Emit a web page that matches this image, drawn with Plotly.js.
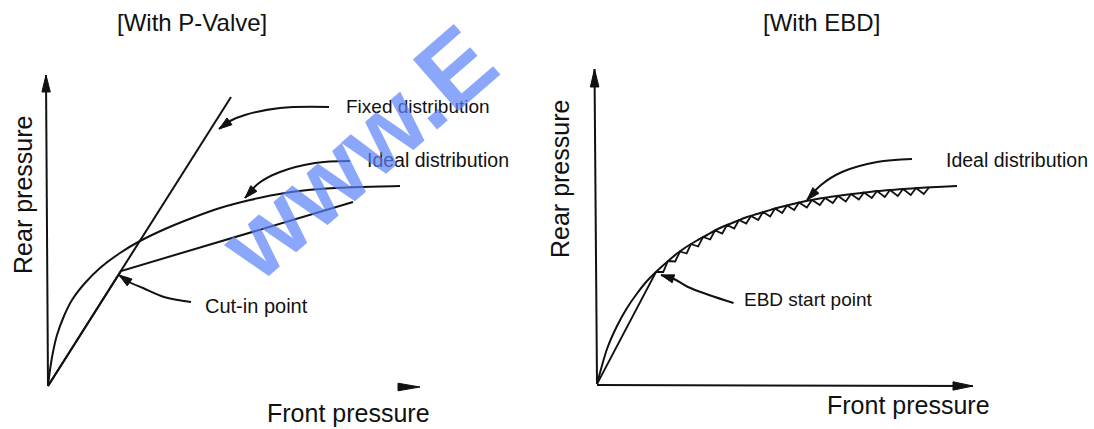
<!DOCTYPE html>
<html>
<head>
<meta charset="utf-8">
<script src="https://cdn.plot.ly/plotly-3.0.1.min.js"></script>
<style>html,body{margin:0;padding:0;background:#fff;}#chart{width:1094px;height:429px;}</style>
</head>
<body>
<div id="chart"></div>
<script>
// ---------- data (arbitrary pressure units) ----------
// Left panel: with P-valve
const pvIdealX = [0, 0.2, 0.5, 0.9, 1.6, 2.4, 3.7, 5.2, 7.2, 9.2, 11.7, 14.4, 17.2, 20.2, 23.7, 27.2, 31.2, 35.2];
const pvIdealY = [0, 1.6, 3.4, 5.1, 7.0, 8.6, 10.3, 11.8, 13.3, 14.5, 15.7, 16.8, 17.8, 18.6, 19.3, 19.7, 19.9, 20.0];
const pvFixedX = [0, 18.3];
const pvFixedY = [0, 28.9];
const pvValveX = [0, 7.3, 30.5];
const pvValveY = [0, 11.5, 18.4];

// Right panel: with EBD
const ebdIdealX = [0, 1, 2, 3, 4, 5, 6, 7, 8, 9, 10, 11, 12, 13, 14, 15, 16, 17, 18, 19, 20, 22, 24, 26, 28, 30, 32, 34, 36];
const ebdIdealY = [0, 3.5, 5.8, 7.6, 9.05, 10.3, 11.3, 12.2, 13.05, 13.75, 14.35, 14.9, 15.45, 15.9, 16.3, 16.7, 17.0, 17.3, 17.6, 17.85, 18.1, 18.5, 18.8, 19.05, 19.3, 19.45, 19.6, 19.7, 19.8];
const ebdActualX = [0, 5.9, 6.62, 7.1, 7.82, 8.3, 8.96, 9.4, 10.12, 10.6, 11.32, 11.8, 12.52, 13.0, 13.72, 14.2, 14.92, 15.4, 16.12, 16.6, 17.32, 17.8, 18.52, 19.0, 19.72, 20.2, 20.98, 21.5, 22.28, 22.8, 23.58, 24.1, 24.88, 25.4, 26.18, 26.7, 27.48, 28.0, 28.78, 29.3, 30.08, 30.6, 31.38, 31.9, 32.68, 33.2];
const ebdActualY = [0, 11.2, 11.2, 12.3, 12.25, 13.25, 13.05, 14.0, 13.75, 14.7, 14.45, 15.35, 15.05, 15.9, 15.55, 16.4, 16.05, 16.8, 16.4, 17.2, 16.75, 17.55, 17.1, 17.85, 17.4, 18.15, 17.65, 18.4, 17.9, 18.6, 18.1, 18.8, 18.25, 19.0, 18.45, 19.15, 18.6, 19.3, 18.7, 19.4, 18.8, 19.5, 18.9, 19.6, 19.0, 19.65];

// Pointer arrows (tail ... tip)
const fixedArrowX = [28.1, 23.2, 19.7, 18.2, 17.1];
const fixedArrowY = [27.9, 27.8, 27.1, 26.5, 25.7];
const pvIdealArrowX = [30.2, 26.7, 23.2, 21.1, 19.7];
const pvIdealArrowY = [22.5, 22.3, 21.4, 20.3, 18.8];
const cutInArrowX = [14.3, 11.6, 9.5, 8.1, 7.1];
const cutInArrowY = [8.4, 8.9, 9.8, 10.4, 11.1];
const ebdIdealArrowX = [31.5, 28.0, 24.5, 22.4, 21.0];
const ebdIdealArrowY = [22.5, 22.2, 21.2, 19.9, 18.4];
const ebdStartArrowX = [13.65, 11.2, 9.1, 7.7, 6.4];
const ebdStartArrowY = [8.1, 8.9, 9.7, 10.5, 10.9];

// Axis arrows (from origin to tip)
const pvYAxisX = [0, -0.2];
const pvYAxisY = [0, 31.1];
const pvXArrowX = [35.0, 37.2];
const pvXArrowY = [-0.1, -0.1];
const ebdYAxisX = [0, -0.25];
const ebdYAxisY = [0, 31.5];
const ebdXAxisX = [0, 37.6];
const ebdXAxisY = [-0.1, -0.2];

// Text
const titles = ['[With P-Valve]', '[With EBD]'];
const xLabel = 'Front pressure';
const yLabel = 'Rear pressure';
const watermark = 'www.E';

// ---------- drawing ----------
const INK = '#111111';
const FONT = 'Liberation Sans, Arial, sans-serif';

function line(x, y, xa, ya, extra) {
  return Object.assign({
    type: 'scatter', mode: 'lines', x: x, y: y, xaxis: xa, yaxis: ya,
    line: {color: INK, width: 2}, hoverinfo: 'skip', cliponaxis: false
  }, extra || {});
}

function head(xs, ys, len, hw, xr, yr) {
  const n = xs.length;
  const tx = xs[n - 1], ty = ys[n - 1];
  let dx = tx - xs[n - 2], dy = ty - ys[n - 2];
  const d = Math.hypot(dx, dy); dx /= d; dy /= d;
  const bx = tx - dx * len, by = ty - dy * len;
  const px = -dy * hw, py = dx * hw;
  return {
    type: 'path', xref: xr, yref: yr,
    path: `M${tx},${ty} L${bx + px},${by + py} L${bx - px},${by - py} Z`,
    fillcolor: INK, line: {color: INK, width: 1}
  };
}

const traces = [
  // left panel
  line(pvYAxisX, pvYAxisY, 'x', 'y'),
  line(pvFixedX, pvFixedY, 'x', 'y'),
  line(pvIdealX, pvIdealY, 'x', 'y', {line: {color: INK, width: 2, shape: 'spline', smoothing: 0.8}}),
  line(pvValveX, pvValveY, 'x', 'y'),
  line(fixedArrowX, fixedArrowY, 'x', 'y', {line: {color: INK, width: 2, shape: 'spline'}}),
  line(pvIdealArrowX, pvIdealArrowY, 'x', 'y', {line: {color: INK, width: 2, shape: 'spline'}}),
  line(cutInArrowX, cutInArrowY, 'x', 'y', {line: {color: INK, width: 2, shape: 'spline'}}),
  // right panel
  line(ebdYAxisX, ebdYAxisY, 'x2', 'y2'),
  line(ebdXAxisX, ebdXAxisY, 'x2', 'y2'),
  line(ebdIdealX, ebdIdealY, 'x2', 'y2', {line: {color: INK, width: 2, shape: 'spline', smoothing: 0.8}}),
  line(ebdActualX, ebdActualY, 'x2', 'y2', {line: {color: INK, width: 1.8}}),
  line(ebdIdealArrowX, ebdIdealArrowY, 'x2', 'y2', {line: {color: INK, width: 2, shape: 'spline'}}),
  line(ebdStartArrowX, ebdStartArrowY, 'x2', 'y2', {line: {color: INK, width: 2, shape: 'spline'}})
];

const shapes = [
  head(pvYAxisX, pvYAxisY, 1.7, 0.42, 'x', 'y'),
  head(pvXArrowX, pvXArrowY, 2.2, 0.38, 'x', 'y'),
  head(fixedArrowX, fixedArrowY, 1.3, 0.42, 'x', 'y'),
  head(pvIdealArrowX, pvIdealArrowY, 1.3, 0.42, 'x', 'y'),
  head(cutInArrowX, cutInArrowY, 1.3, 0.42, 'x', 'y'),
  head(ebdYAxisX, ebdYAxisY, 1.8, 0.43, 'x2', 'y2'),
  head(ebdXAxisX, ebdXAxisY, 2.0, 0.42, 'x2', 'y2'),
  head(ebdIdealArrowX, ebdIdealArrowY, 1.3, 0.42, 'x2', 'y2'),
  head(ebdStartArrowX, ebdStartArrowY, 1.3, 0.42, 'x2', 'y2')
];

function txt(text, x, y, size, extra) {
  return Object.assign({
    text: text, x: x, y: y, xref: 'paper', yref: 'paper', showarrow: false,
    xanchor: 'center', yanchor: 'middle',
    font: {family: FONT, size: size, color: INK}
  }, extra || {});
}

const annotations = [
  txt(titles[0], 0.1755, 0.9464, 24),
  txt(titles[1], 0.7505, 0.9487, 24),
  txt(yLabel, 0.0210, 0.5455, 25, {textangle: -90}),
  txt(yLabel, 0.5119, 0.5828, 25, {textangle: -90}),
  txt(xLabel, 0.3186, 0.0373, 25),
  txt(xLabel, 0.8300, 0.0559, 25),
  txt('Fixed distribution', 0.3144, 0.7506, 19, {xanchor: 'left'}),
  txt('Ideal distribution', 0.3336, 0.6270, 19.5, {xanchor: 'left'}),
  txt('Cut-in point', 0.1856, 0.2867, 20, {xanchor: 'left'}),
  txt('Ideal distribution', 0.8629, 0.6270, 19.5, {xanchor: 'left'}),
  txt('EBD start point', 0.6782, 0.3007, 19, {xanchor: 'left'}),
  // watermark
  {text: '<b>' + watermark + '</b>', x: 0.3272, y: 0.6457, xref: 'paper', yref: 'paper', showarrow: false,
   xanchor: 'center', yanchor: 'middle', textangle: -41,
   font: {family: FONT, size: 100, color: 'rgba(90,130,250,0.7)'}}
];

const hidden = {visible: false, fixedrange: true};
const layout = {
  width: 1094, height: 429,
  margin: {l: 0, r: 0, t: 0, b: 0},
  paper_bgcolor: '#ffffff', plot_bgcolor: 'rgba(0,0,0,0)',
  showlegend: false,
  xaxis: Object.assign({domain: [8 / 1094, 458 / 1094], range: [-4, 41], anchor: 'y'}, hidden),
  yaxis: Object.assign({domain: [13 / 429, 373 / 429], range: [-3, 33], anchor: 'x'}, hidden),
  xaxis2: Object.assign({domain: [557 / 1094, 1007 / 1094], range: [-4, 41], anchor: 'y2'}, hidden),
  yaxis2: Object.assign({domain: [15 / 429, 375 / 429], range: [-3, 33], anchor: 'x2'}, hidden),
  shapes: shapes,
  annotations: annotations
};

Plotly.newPlot('chart', traces, layout, {staticPlot: true, displayModeBar: false});
</script>
</body>
</html>
